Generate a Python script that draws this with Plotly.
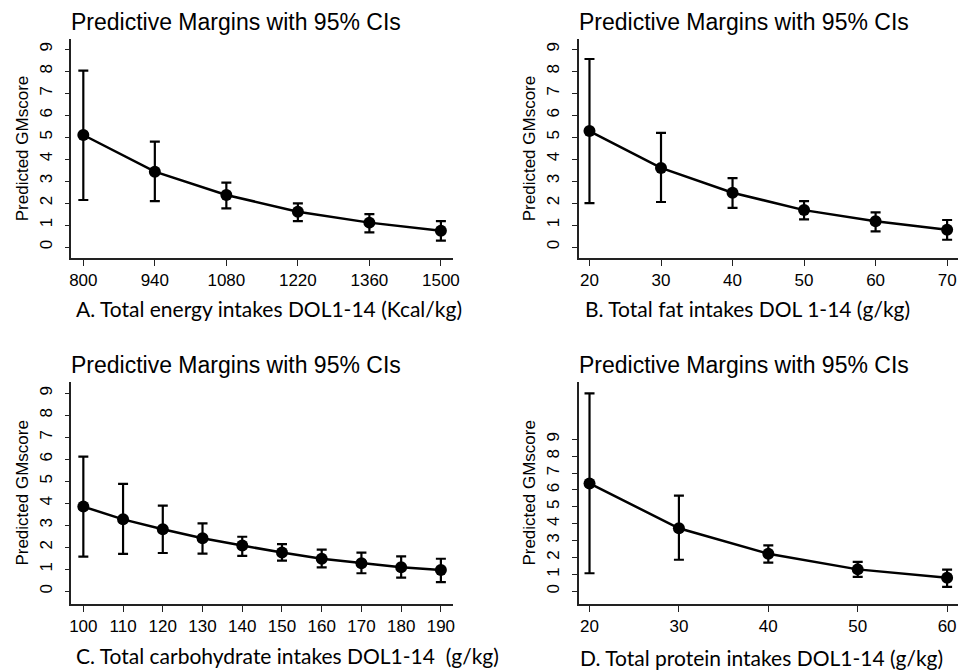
import plotly.graph_objects as go

# ---- data ----
energy_x = [800, 940, 1080, 1220, 1360, 1500]
energy_y = [5.10, 3.43, 2.37, 1.61, 1.11, 0.74]
energy_hi = [8.03, 4.80, 2.93, 1.99, 1.50, 1.18]
energy_lo = [2.14, 2.09, 1.76, 1.18, 0.67, 0.29]

fat_x = [20, 30, 40, 50, 60, 70]
fat_y = [5.28, 3.60, 2.47, 1.68, 1.17, 0.79]
fat_hi = [8.56, 5.20, 3.14, 2.09, 1.58, 1.23]
fat_lo = [2.00, 2.05, 1.78, 1.26, 0.71, 0.33]

carb_x = [100, 110, 120, 130, 140, 150, 160, 170, 180, 190]
carb_y = [3.85, 3.27, 2.82, 2.41, 2.08, 1.76, 1.48, 1.27, 1.09, 0.97]
carb_hi = [6.12, 4.88, 3.89, 3.09, 2.48, 2.14, 1.89, 1.76, 1.59, 1.48]
carb_lo = [1.58, 1.70, 1.74, 1.71, 1.61, 1.39, 1.09, 0.82, 0.62, 0.42]

prot_x = [20, 30, 40, 50, 60]
prot_y = [6.39, 3.73, 2.23, 1.30, 0.81]
prot_hi = [11.72, 5.66, 2.72, 1.74, 1.28]
prot_lo = [1.07, 1.87, 1.70, 0.85, 0.26]

y_ticks = [0, 1, 2, 3, 4, 5, 6, 7, 8, 9]
title_text = "Predictive Margins with 95% CIs"
y_title = "Predicted GMscore"
captions = [
    "A. Total energy intakes DOL1-14 (Kcal/kg)",
    "B. Total fat intakes DOL 1-14 (g/kg)",
    "C. Total carbohydrate intakes DOL1-14  (g/kg)",
    "D. Total protein intakes DOL1-14 (g/kg)",
]

# page has an 8px body margin; figure sized to fit the window
OFF = 8
W, H = 966 - OFF, 671 - OFF
def px_x(p): return (p - OFF) / W
def px_y(p): return 1 - (p - OFF) / H

panels = [
    dict(x=energy_x, y=energy_y, hi=energy_hi, lo=energy_lo,
         xdom=[70, 455], ydom=[39, 258], xr=[776.7, 1523.3], yr=[-0.50, 9.47]),
    dict(x=fat_x, y=fat_y, hi=fat_hi, lo=fat_lo,
         xdom=[582, 966], ydom=[39, 258], xr=[18.48, 71.66], yr=[-0.50, 9.47]),
    dict(x=carb_x, y=carb_y, hi=carb_hi, lo=carb_lo,
         xdom=[70, 455], ydom=[381.7, 604], xr=[97.0, 193.0], yr=[-0.577, 9.527]),
    dict(x=prot_x, y=prot_y, hi=prot_hi, lo=prot_lo,
         xdom=[582, 966], ydom=[381.7, 604], xr=[18.78, 61.33], yr=[-0.75, 12.41]),
]

title_pos = [(68, 22), (580, 22), (68, 365), (580, 365)]
cap_pos = [(73, 309), (586, 309), (73, 655), (581, 657)]

fig = go.Figure()
layout = dict(
    width=W, height=H, margin=dict(l=0, r=0, t=0, b=0),
    paper_bgcolor="white", plot_bgcolor="white", showlegend=False,
    font=dict(family="Liberation Sans, Arial", color="black"),
)
annotations = []
for i, p in enumerate(panels):
    k = "" if i == 0 else str(i + 1)
    fig.add_trace(go.Scatter(
        x=p["x"], y=p["y"], mode="lines+markers",
        xaxis="x" + k, yaxis="y" + k,
        line=dict(color="black", width=2.5),
        marker=dict(color="black", size=12),
        error_y=dict(type="data", symmetric=False,
                     array=[h - v for h, v in zip(p["hi"], p["y"])],
                     arrayminus=[v - l for l, v in zip(p["lo"], p["y"])],
                     color="black", thickness=2.2, width=5),
        cliponaxis=False,
    ))
    layout["xaxis" + k] = dict(
        domain=[px_x(p["xdom"][0]), min(1.0, px_x(p["xdom"][1]))],
        range=p["xr"], anchor="y" + k,
        tickvals=p["x"], showline=True, linecolor="#222", linewidth=1.5,
        ticks="outside", ticklen=6, tickcolor="#222", tickwidth=1.2,
        showgrid=False, zeroline=False,
        tickfont=dict(size=17, family="Liberation Sans, Arial", color="black"),
    )
    layout["yaxis" + k] = dict(
        domain=[px_y(p["ydom"][1]), px_y(p["ydom"][0])],
        range=p["yr"], anchor="x" + k,
        tickvals=y_ticks, tickangle=-90, showline=True, linecolor="#222", linewidth=1.5,
        ticks="outside", ticklen=5, tickcolor="#222", tickwidth=1.2,
        ticklabelstandoff=6,
        showgrid=False, zeroline=False,
        tickfont=dict(size=17, family="Liberation Sans, Arial", color="black"),
        title=dict(text=y_title, standoff=4,
                   font=dict(size=17, family="Liberation Sans, Arial", color="black")),
    )
    tx, ty = title_pos[i]
    annotations.append(dict(
        text=title_text, xref="paper", yref="paper",
        x=px_x(tx), y=px_y(ty), xanchor="left", yanchor="middle",
        showarrow=False, font=dict(size=23, family="Liberation Sans, Arial", color="black")))
    cx, cy = cap_pos[i]
    annotations.append(dict(
        text=captions[i], xref="paper", yref="paper",
        x=px_x(cx), y=px_y(cy), xanchor="left", yanchor="middle",
        showarrow=False, font=dict(size=21, family="Lato, Carlito, sans-serif", color="black")))

layout["annotations"] = annotations
fig.update_layout(**layout)
fig.write_html("out.html")
